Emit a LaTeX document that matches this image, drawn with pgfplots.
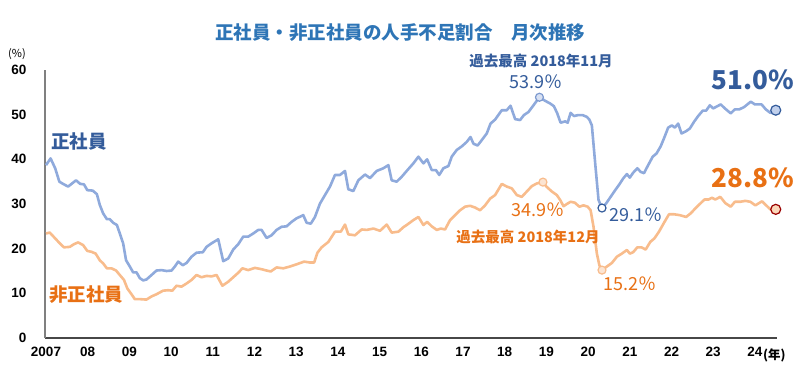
\documentclass[border=0pt]{standalone}
\usepackage{pgfplots}
\pgfplotsset{compat=1.18}
\usepackage{fontspec}
\setmainfont{Noto Sans CJK JP}
\newfontfamily\lat{Liberation Sans}
\definecolor{lineblue}{RGB}{143,170,220}
\definecolor{lineorange}{RGB}{248,188,140}
\definecolor{txtblue}{RGB}{52,92,155}
\definecolor{txtorange}{RGB}{232,112,20}
\definecolor{titleblue}{RGB}{46,117,182}
\begin{document}
\begin{tikzpicture}[x=1pt,y=1pt]
\path[use as bounding box] (0,0) rectangle (802,385);
\begin{axis}[
  at={(45pt,47pt)}, anchor=south west, scale only axis,
  width=732pt, height=268pt,
  xmin=2006.976, xmax=2024.53, ymin=0, ymax=60,
  axis x line=bottom, axis y line=left,
  x axis line style={-, line width=1.2pt, draw=black!72},
  y axis line style={-, line width=1.4pt, draw=black!50},
  xtick={2007,2008,...,2024},
  xticklabels={2007,08,09,10,11,12,13,14,15,16,17,18,19,20,21,22,23,24},
  ytick={0,10,...,60},
  major tick length=0pt,
  /pgf/number format/assume math mode=true,
  tick label style={font=\lat\bfseries\fontsize{13.5}{13.5}\selectfont, text=black},
  xticklabel style={yshift=-6pt},
  yticklabel style={xshift=-15pt},
  clip=false,
]
\addplot[lineblue, line width=2.6pt, line join=round] coordinates {
(2007.0,38.7)(2007.11,40.2)(2007.22,38.0)(2007.32,35.0)(2007.41,34.5)(2007.53,33.9)(2007.72,35.3)(2007.82,34.5)(2007.91,34.4)(2007.99,33.1)(2008.12,33.0)(2008.22,32.2)(2008.29,29.8)(2008.37,27.9)(2008.46,26.6)(2008.53,26.6)(2008.61,25.8)(2008.70,25.3)(2008.77,23.4)(2008.85,21.2)(2008.92,17.4)(2009.01,16.0)(2009.09,14.7)(2009.17,14.7)(2009.25,13.4)(2009.33,12.9)(2009.41,13.1)(2009.53,14.1)(2009.65,15.1)(2009.77,15.2)(2009.89,15.0)(2010.01,15.1)(2010.09,16.0)(2010.17,17.1)(2010.28,16.3)(2010.37,16.8)(2010.49,18.2)(2010.61,19.1)(2010.76,19.2)(2010.85,20.4)(2010.97,21.2)(2011.13,22.1)(2011.25,17.2)(2011.37,17.8)(2011.49,19.8)(2011.61,21.0)(2011.73,22.7)(2011.85,22.7)(2011.97,23.4)(2012.09,24.2)(2012.17,24.2)(2012.29,22.4)(2012.41,23.0)(2012.53,24.2)(2012.65,24.9)(2012.77,25.0)(2012.89,26.0)(2013.01,26.8)(2013.17,27.5)(2013.25,25.8)(2013.35,25.6)(2013.45,27.1)(2013.57,30.1)(2013.69,32.0)(2013.81,33.9)(2013.93,36.5)(2014.05,36.5)(2014.17,37.4)(2014.25,33.3)(2014.37,32.9)(2014.49,35.3)(2014.65,36.6)(2014.77,35.8)(2014.93,37.4)(2015.09,38.0)(2015.21,38.7)(2015.29,35.3)(2015.41,35.0)(2015.53,36.1)(2015.65,37.4)(2015.81,39.1)(2015.93,40.6)(2016.05,39.1)(2016.14,40.0)(2016.25,37.6)(2016.35,37.6)(2016.43,36.5)(2016.53,38.0)(2016.65,38.5)(2016.73,40.6)(2016.85,42.1)(2016.97,42.9)(2017.09,43.9)(2017.18,45.0)(2017.25,43.5)(2017.35,43.1)(2017.45,44.3)(2017.57,45.8)(2017.66,48.0)(2017.77,48.9)(2017.93,51.0)(2018.05,51.0)(2018.14,52.0)(2018.25,49.0)(2018.37,48.8)(2018.46,49.9)(2018.57,50.6)(2018.69,52.1)(2018.833,53.9)(2018.97,53.1)(2019.09,52.5)(2019.18,51.9)(2019.26,50.3)(2019.34,48.2)(2019.45,48.5)(2019.51,48.2)(2019.58,50.4)(2019.66,49.7)(2019.76,49.9)(2019.87,49.9)(2019.97,49.5)(2020.03,48.9)(2020.09,47.6)(2020.17,39.1)(2020.25,30.9)(2020.333,29.1)(2020.43,30.1)(2020.54,31.6)(2020.65,33.1)(2020.75,34.4)(2020.84,35.7)(2020.93,36.7)(2021.0,35.9)(2021.08,37.0)(2021.18,38.0)(2021.26,37.2)(2021.34,36.9)(2021.44,38.7)(2021.55,40.6)(2021.64,41.3)(2021.74,42.9)(2021.82,44.7)(2021.92,47.1)(2022.01,47.6)(2022.08,47.1)(2022.16,48.0)(2022.24,45.8)(2022.35,46.3)(2022.44,46.9)(2022.54,48.4)(2022.64,49.7)(2022.75,50.9)(2022.83,50.9)(2022.92,52.1)(2023.0,51.4)(2023.1,51.9)(2023.18,52.3)(2023.28,51.4)(2023.42,50.3)(2023.52,51.2)(2023.63,51.2)(2023.74,51.7)(2023.9,52.9)(2024.0,52.3)(2024.16,52.3)(2024.26,51.2)(2024.37,50.4)(2024.5,51.0)
};
\addplot[lineorange, line width=2.6pt, line join=round] coordinates {
(2007.0,23.4)(2007.09,23.6)(2007.22,22.3)(2007.32,21.3)(2007.43,20.3)(2007.57,20.4)(2007.67,21.0)(2007.77,21.4)(2007.89,20.8)(2007.99,19.5)(2008.09,19.3)(2008.19,18.9)(2008.29,17.4)(2008.37,16.7)(2008.46,15.6)(2008.57,15.6)(2008.68,15.1)(2008.77,14.1)(2008.87,13.0)(2008.95,11.1)(2009.05,9.8)(2009.13,8.7)(2009.25,8.7)(2009.41,8.6)(2009.53,9.3)(2009.65,9.8)(2009.81,10.6)(2009.93,10.7)(2010.03,10.6)(2010.13,11.7)(2010.25,11.5)(2010.37,12.2)(2010.49,13.0)(2010.61,14.1)(2010.73,13.6)(2010.85,13.9)(2010.97,13.8)(2011.09,14.1)(2011.23,11.7)(2011.37,12.6)(2011.49,13.6)(2011.61,14.6)(2011.71,15.6)(2011.85,15.2)(2012.01,15.7)(2012.17,15.4)(2012.29,15.1)(2012.39,14.9)(2012.53,15.8)(2012.69,15.6)(2012.85,16.0)(2013.01,16.5)(2013.19,17.1)(2013.33,16.9)(2013.43,16.9)(2013.51,19.1)(2013.61,20.3)(2013.77,21.5)(2013.93,23.8)(2014.07,23.8)(2014.17,25.4)(2014.25,23.2)(2014.41,23.0)(2014.57,24.3)(2014.69,24.2)(2014.85,24.5)(2015.01,24.0)(2015.17,25.4)(2015.29,23.6)(2015.45,23.8)(2015.57,24.8)(2015.65,25.3)(2015.81,26.4)(2015.93,27.1)(2016.05,25.3)(2016.14,26.0)(2016.25,25.0)(2016.37,24.2)(2016.47,24.5)(2016.57,24.3)(2016.69,26.4)(2016.81,27.5)(2016.93,28.6)(2017.05,29.4)(2017.17,29.6)(2017.29,29.2)(2017.41,28.6)(2017.53,29.7)(2017.65,31.2)(2017.77,32.0)(2017.93,34.5)(2018.05,33.9)(2018.17,33.5)(2018.29,32.0)(2018.41,31.6)(2018.53,32.8)(2018.65,34.0)(2018.77,34.6)(2018.917,34.9)(2019.0,33.9)(2019.13,32.8)(2019.25,32.0)(2019.33,30.9)(2019.41,29.5)(2019.49,30.0)(2019.58,30.5)(2019.68,30.3)(2019.79,29.4)(2019.89,29.7)(2019.99,29.4)(2020.06,28.6)(2020.13,24.9)(2020.21,18.9)(2020.27,16.3)(2020.333,15.2)(2020.45,16.0)(2020.57,16.8)(2020.69,18.2)(2020.81,18.9)(2020.93,19.7)(2021.0,18.9)(2021.08,19.2)(2021.18,20.3)(2021.28,20.3)(2021.38,19.8)(2021.49,21.5)(2021.59,22.3)(2021.70,23.8)(2021.82,25.8)(2021.94,27.7)(2022.06,27.7)(2022.2,27.5)(2022.35,27.1)(2022.46,27.9)(2022.57,29.0)(2022.69,30.1)(2022.79,31.0)(2022.89,31.0)(2022.97,31.4)(2023.05,31.0)(2023.17,31.6)(2023.29,30.2)(2023.42,29.4)(2023.52,30.5)(2023.65,30.5)(2023.77,30.7)(2023.89,30.5)(2024.01,29.7)(2024.17,30.6)(2024.27,29.7)(2024.37,28.8)(2024.5,28.8)
};
% highlighted points
\addplot[only marks, mark=*, mark size=4pt, mark options={fill=lineblue!35, draw=lineblue!80!txtblue, line width=1.2pt}] coordinates {(2018.833,53.9)};
\addplot[only marks, mark=*, mark size=4pt, mark options={fill=white, draw=txtblue, line width=1.2pt}] coordinates {(2020.333,29.1)};
\addplot[only marks, mark=*, mark size=5pt, mark options={fill=lineblue!55, draw=txtblue, line width=1.2pt}] coordinates {(2024.5,51.0)};
\addplot[only marks, mark=*, mark size=4pt, mark options={fill=lineorange!40, draw=lineorange, line width=1.2pt}] coordinates {(2018.917,34.9)};
\addplot[only marks, mark=*, mark size=4pt, mark options={fill=lineorange!40, draw=lineorange, line width=1.2pt}] coordinates {(2020.333,15.2)};
\addplot[only marks, mark=*, mark size=5pt, mark options={fill=lineorange!60, draw=red!60!black, line width=1.2pt}] coordinates {(2024.5,28.8)};
\end{axis}
% texts
\node[text=titleblue, font=\bfseries\fontsize{18.5}{18.5}\selectfont] at (400,352) {正社員・非正社員の人手不足割合　月次推移};
\node[font=\fontsize{11}{11}\selectfont] at (17,331) {(\%)};
\node[text=txtblue, font=\bfseries\fontsize{18.5}{18.5}\selectfont] at (79,243) {正社員};
\node[text=txtorange, font=\bfseries\fontsize{18.5}{18.5}\selectfont] at (86,90) {非正社員};
\node[text=txtblue, font=\bfseries\fontsize{14.5}{14.5}\selectfont] at (541,324) {過去最高 2018年11月};
\node[text=txtblue, font=\fontsize{18}{18}\selectfont] at (536,303) {53.9％};
\node[text=txtblue, font=\bfseries\fontsize{26}{26}\selectfont] at (753,305) {51.0\%};
\node[text=txtorange, font=\bfseries\fontsize{26}{26}\selectfont] at (753,207) {28.8\%};
\node[text=txtorange, font=\fontsize{18}{18}\selectfont] at (538,175) {34.9％};
\node[text=txtorange, font=\bfseries\fontsize{14.5}{14.5}\selectfont] at (528,148) {過去最高 2018年12月};
\node[text=txtblue, font=\fontsize{18}{18}\selectfont] at (636,170) {29.1％};
\node[text=txtorange, font=\fontsize{18}{18}\selectfont] at (630,101) {15.2％};
\node[anchor=west, inner sep=0pt, font=\bfseries\fontsize{12.5}{12.5}\selectfont] at (763,30) {(年)};
\end{tikzpicture}
\end{document}
